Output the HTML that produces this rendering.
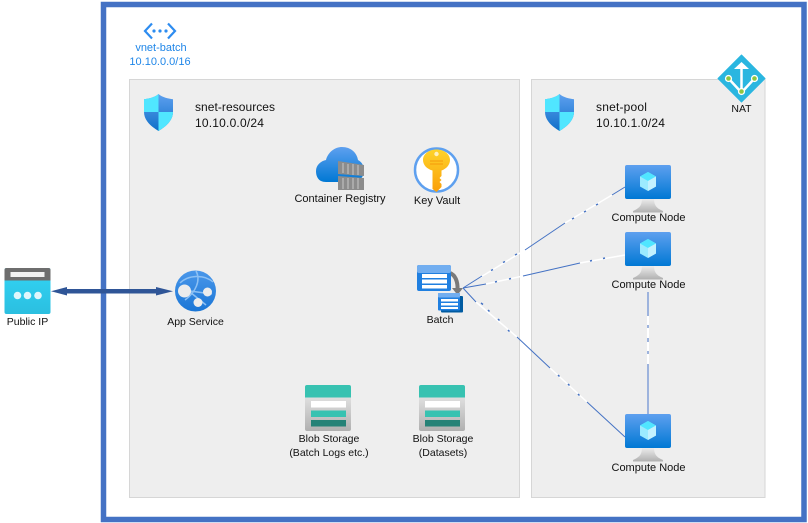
<!DOCTYPE html>
<html><head><meta charset="utf-8">
<style>
html,body{margin:0;padding:0;background:#fff}
body{width:808px;height:523px;overflow:hidden;position:relative}
svg{position:absolute;left:0;top:0}
text{font-family:"Liberation Sans",sans-serif;font-size:10.5px;fill:#111}
.s{font-size:12px;letter-spacing:.2px}
.c{font-size:11px}
</style></head><body>
<svg width="808" height="523" viewBox="0 0 808 523" xmlns="http://www.w3.org/2000/svg">
<defs>
<linearGradient id="blue" x1="0" y1="0" x2="0" y2="1"><stop offset="0" stop-color="#5ea0ef"/><stop offset="1" stop-color="#0078d4"/></linearGradient>
<linearGradient id="shield" x1="0" y1="0" x2="0" y2="1"><stop offset="0" stop-color="#5ea0ef"/><stop offset="1" stop-color="#0f6fc8"/></linearGradient>
<linearGradient id="grey" x1="0" y1="0" x2="0" y2="1"><stop offset="0" stop-color="#f0f0f0"/><stop offset="1" stop-color="#b0b0b0"/></linearGradient>
<linearGradient id="cyan" x1="0" y1="0" x2="0" y2="1"><stop offset="0" stop-color="#32d4f5"/><stop offset="1" stop-color="#2bbfe0"/></linearGradient>
<linearGradient id="key" x1="0" y1="0" x2="0" y2="1"><stop offset="0" stop-color="#fed32a"/><stop offset="1" stop-color="#fa9f0a"/></linearGradient>
<linearGradient id="app" x1="0" y1="0" x2="0" y2="1"><stop offset="0" stop-color="#4a97ea"/><stop offset="1" stop-color="#1a76d6"/></linearGradient>
<g id="shieldI">
<path d="M15.500 1 C11.500 4.500 5.500 5.700 1 6.200 V19 C1 28 9 34 15.500 38 C22 34 30 28 30 19 V6.200 C25.500 5.700 19.500 4.500 15.500 1Z" fill="url(#shield)"/>
<path d="M15.500 1 V19 H1 V6.200 C5.500 5.700 11.500 4.500 15.500 1Z" fill="#50e6ff"/>
<path d="M15.500 19 H30 C30 28 22 34 15.500 38Z" fill="#50e6ff"/>
</g>
<g id="vm">
<path d="M17 33 H29 C29 40 31 43 38 46 V47.500 H8 V46 C15 43 17 40 17 33Z" fill="url(#grey)"/>
<rect x="0" y="0" width="46" height="34" rx="2" fill="url(#blue)"/>
<path d="M23 7 L31 11.500 V21.500 L23 26 L15 21.500 V11.500Z" fill="#9cebff"/>
<path d="M23 7 L31 11.500 L23 16 L15 11.500Z" fill="#50e6ff"/>
<path d="M23 16 L31 11.500 V21.500 L23 26Z" fill="#c3f1ff"/>
</g>
<g id="blob">
<rect x="0" y="0" width="46" height="46" rx="2" fill="url(#grey)"/>
<path d="M2 0 H44 A2 2 0 0 1 46 2 V12.500 H0 V2 A2 2 0 0 1 2 0Z" fill="#37c2b1"/>
<rect x="6" y="16" width="35" height="6.500" fill="#fff"/>
<rect x="6" y="25.500" width="35" height="6.500" fill="#37c2b1"/>
<rect x="6" y="35" width="35" height="6.500" fill="#258277"/>
</g>
</defs>

<rect x="103.500" y="4.500" width="700.500" height="515" fill="#fff" stroke="#4472c4" stroke-width="5.500"/>
<rect x="129.500" y="79.500" width="390" height="418" fill="#eeeeee" stroke="#d6d6d6"/>
<rect x="531.500" y="79.500" width="233.500" height="418" fill="#eeeeee" stroke="#d6d6d6"/>

<!-- batch lines -->
<g fill="none" stroke-width="1">
<g stroke="#fff" stroke-width="1.500">
<line x1="480" y1="277.500" x2="525" y2="250"/>
<line x1="565" y1="223" x2="612" y2="195"/>
<line x1="486" y1="284" x2="523" y2="276"/>
<line x1="580" y1="263" x2="625" y2="255"/>
<line x1="476" y1="302" x2="517" y2="337"/>
<line x1="550" y1="368" x2="587" y2="402"/>
</g>
<g stroke="#4472c4">
<line x1="463" y1="288" x2="482" y2="276"/>
<line x1="525" y1="250" x2="565" y2="223"/>
<line x1="612" y1="195" x2="625" y2="187"/>
<line x1="463" y1="288" x2="486" y2="284"/>
<line x1="523" y1="276" x2="580" y2="263"/>
<line x1="463" y1="288" x2="476" y2="302"/>
<line x1="517" y1="337" x2="550" y2="368"/>
<line x1="587" y1="402" x2="625" y2="437"/>
</g>
<g stroke="#4472c4" stroke-width="1.500">
<path d="M491 270.500l2-1M503 262.500l2-1M515 255l2-1M572 219l2-1M584 212l2-1M596 205l2-1"/>
<path d="M495 282l2-.5M509 279l2-.5M590 261l2-.5M603 258.500l2-.5"/>
<path d="M481 303l2 1.500M488 310l1.500 1.500M498 319l1.500 1.500M508 330l1.500 1.500M558 375l1.500 1.500M568 384l1.500 1.500M578 394l1.500 1.500"/>
</g>
</g>
<rect x="647" y="292" width="2" height="122" fill="#9db3dd"/>
<rect x="647" y="316" width="2" height="9" fill="#fff"/>
<rect x="647" y="328" width="2" height="10" fill="#fff"/>
<rect x="647" y="342" width="2" height="9" fill="#fff"/>
<rect x="647" y="354" width="2" height="10" fill="#fff"/>

<!-- Public IP -->
<rect x="4.500" y="268" width="46" height="46" rx="2" fill="url(#cyan)"/>
<path d="M6.500 268 H48.500 A2 2 0 0 1 50.500 270 V280.500 H4.500 V270 A2 2 0 0 1 6.500 268Z" fill="#6e6e6e"/>
<rect x="10.500" y="272" width="34" height="5" fill="#f2f2f2"/>
<circle cx="17.500" cy="295.500" r="3.800" fill="#fff" fill-opacity=".85"/><circle cx="27.500" cy="295.500" r="3.800" fill="#fff" fill-opacity=".85"/><circle cx="38" cy="295.500" r="3.800" fill="#fff" fill-opacity=".85"/>
<text x="27.500" y="325" text-anchor="middle">Public IP</text>

<!-- arrow -->
<path d="M51 291.300 L67 287 V289 H156 V287 L173 291.300 L156 295.500 V293.500 H67 V295.500Z" fill="#2f5597"/>

<!-- vnet -->
<g fill="none" stroke="#2d8cf0" stroke-width="2.200">
<path d="M152 23.500 L145 31 L152 38.500"/><path d="M168 23.500 L175 31 L168 38.500"/>
</g>
<circle cx="154" cy="31" r="1.600" fill="#2d8cf0"/><circle cx="160" cy="31" r="1.600" fill="#2d8cf0"/><circle cx="166" cy="31" r="1.600" fill="#2d8cf0"/>
<text x="161" y="51" text-anchor="middle" class="c" style="fill:#1f86e8">vnet-batch</text>
<text x="160" y="65" text-anchor="middle" style="fill:#1f86e8;font-size:11px">10.10.0.0/16</text>

<!-- subnets -->
<use href="#shieldI" x="143" y="93"/>
<text x="195" y="111" class="s" style="letter-spacing:.05px">snet-resources</text>
<text x="195" y="127" class="s">10.10.0.0/24</text>
<use href="#shieldI" x="544" y="93"/>
<text x="596" y="111" class="s">snet-pool</text>
<text x="596" y="127" class="s">10.10.1.0/24</text>

<!-- NAT -->
<path d="M741.500 55 L765 78.500 L741.500 102 L718 78.500Z" fill="#2ab6e0" stroke="#2ab6e0" stroke-width="1" stroke-linejoin="round"/>
<g stroke="#fff" stroke-width="2.500" fill="none"><path d="M741.500 92 V66"/><path d="M741 92 L729 79"/><path d="M742 92 L754 79"/></g>
<path d="M741.500 62 L749 69 H734Z" fill="#fff"/>
<circle cx="741.500" cy="91.500" r="3.600" fill="#fff"/><circle cx="741.500" cy="91.500" r="2.300" fill="#8dc63f"/>
<circle cx="728.500" cy="78.500" r="3.600" fill="#fff"/><circle cx="728.500" cy="78.500" r="2.300" fill="#8dc63f"/>
<circle cx="754.500" cy="78.500" r="3.600" fill="#fff"/><circle cx="754.500" cy="78.500" r="2.300" fill="#8dc63f"/>
<text x="741.500" y="112" text-anchor="middle">NAT</text>

<!-- Container Registry -->
<path d="M326 182 C318 182 316 176 316 171 C316 165 321 161 326 160 C328 152 335 147 342 147 C351 147 357 153 358 160 C362 162 364 166 364 171 C364 178 358 182 352 182Z" fill="url(#blue)"/>
<path d="M338 161 L364 165 V176 L338 174Z" fill="#8c8c8c"/>
<path d="M338 176 L364 178 V190 L338 190Z" fill="#8c8c8c"/>
<g stroke="#c9c9c9" stroke-width="1"><path d="M343 163v10M348 164v10M353 164v11M358 165v10M343 178v11M348 178v11M353 178v11M358 178v11"/></g>
<text x="340" y="202" text-anchor="middle" class="c">Container Registry</text>

<!-- Key Vault -->
<circle cx="436.500" cy="170" r="21.500" fill="#fff" stroke="#5ea0ef" stroke-width="2.500"/>
<path d="M436.500 149.500 C444 149.500 450 154 450 160 C450 165 446 169 441.500 170.500 V176 L439.500 178 L441.500 180 L439.500 182 L441.500 184 V187 L436.500 192 L432.500 189 V170.500 C427 169 423 165 423 160 C423 154 429 149.500 436.500 149.500Z" fill="url(#key)"/>
<circle cx="436.500" cy="154" r="2.200" fill="#fff" fill-opacity=".7"/>
<path d="M430 161h13M430 164h13" stroke="#f59a0a" stroke-width="1"/>
<text x="437" y="204" text-anchor="middle" class="c">Key Vault</text>

<!-- App Service -->
<circle cx="195.500" cy="291" r="20.500" fill="url(#app)"/>
<path d="M180 283 C188 275 204 274 213 282 M185 300 C196 292 201 280 196 271 M190 291 L212 294 M190 292 L206 305" stroke="#8cc0f4" stroke-width="1.500" fill="none"/>
<circle cx="184.500" cy="291" r="6.500" fill="#ececec"/>
<circle cx="207.500" cy="292" r="4.500" fill="#ececec"/>
<circle cx="198" cy="302.500" r="4.500" fill="#ececec"/>
<text x="195.500" y="325" text-anchor="middle">App Service</text>

<!-- Batch -->
<path d="M450 273 C455 275 458 281 457.500 290" fill="none" stroke="#7a7a7a" stroke-width="4"/>
<path d="M452 288 H463 L457.500 295Z" fill="#7a7a7a"/>
<path d="M419 265 H449 A2 2 0 0 1 451 267 V289 A2 2 0 0 1 449 291 H419 A2 2 0 0 1 417 289 V267 A2 2 0 0 1 419 265Z" fill="#1f7fe0"/>
<rect x="417" y="265" width="34" height="8" rx="2" fill="#72aef0"/>
<rect x="422" y="274" width="25" height="4" fill="#fff"/><rect x="422" y="279.500" width="25" height="4" fill="#fff"/><rect x="422" y="285" width="25" height="3.500" fill="#fff"/>
<rect x="441" y="296" width="22" height="16.500" rx="1" fill="#005ba1"/>
<rect x="438" y="293" width="22" height="17.500" rx="1" fill="#1f7fe0"/>
<rect x="438" y="293" width="22" height="4.500" rx="1" fill="#72aef0"/>
<rect x="441" y="299" width="17" height="2.500" fill="#fff"/><rect x="441" y="303" width="17" height="2.500" fill="#fff"/><rect x="441" y="307" width="17" height="2" fill="#fff"/>
<text x="440" y="323" text-anchor="middle">Batch</text>

<!-- Blob -->
<use href="#blob" x="305" y="385"/>
<text x="329" y="442" text-anchor="middle">Blob Storage</text>
<text x="329" y="456" text-anchor="middle">(Batch Logs etc.)</text>
<use href="#blob" x="419" y="385"/>
<text x="443" y="442" text-anchor="middle">Blob Storage</text>
<text x="443" y="456" text-anchor="middle">(Datasets)</text>

<!-- Compute -->
<use href="#vm" x="625" y="165"/>
<text x="648.500" y="221" text-anchor="middle" class="c">Compute Node</text>
<use href="#vm" x="625" y="232"/>
<text x="648.500" y="288" text-anchor="middle" class="c">Compute Node</text>
<use href="#vm" x="625" y="414"/>
<text x="648.500" y="471" text-anchor="middle" class="c">Compute Node</text>
</svg>
</body></html>
